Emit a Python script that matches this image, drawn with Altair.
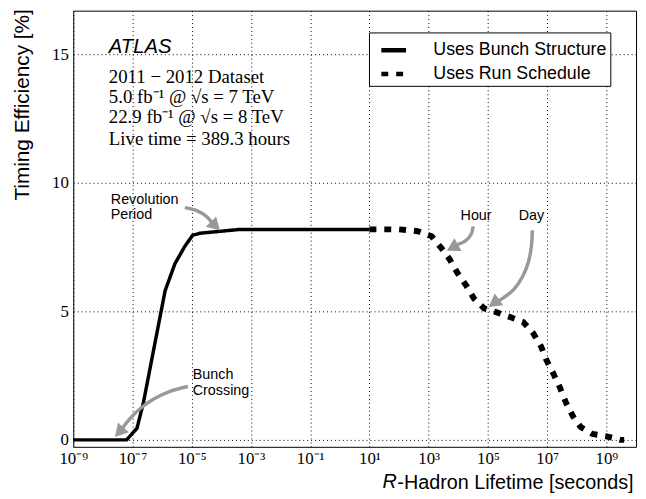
import altair as alt
import pandas as pd

# ---- data (x stored as log10 of lifetime in seconds, y in %) ----
series_names = ["Uses Bunch Structure", "Uses Run Schedule"]

bunch_logx = [-9.0, -7.2, -6.85, -6.63, -6.22, -5.9, -5.57, -5.23, -4.97, -4.73, -4.0, -3.37, 1.0]
bunch_eff = [0.0, 0.0, 0.45, 1.46, 3.9, 5.8, 6.85, 7.54, 7.96, 8.04, 8.12, 8.19, 8.19]

run_logx = [1.0, 2.0, 2.63, 3.1, 3.43, 3.7, 3.97, 4.27, 4.53, 4.87, 5.3, 5.77, 6.2, 6.53,
            6.8, 6.97, 7.2, 7.43, 7.63, 7.87, 8.13, 8.53, 8.97, 9.47, 9.6]
run_eff = [8.19, 8.19, 8.12, 7.92, 7.46, 7.04, 6.5, 6.0, 5.5, 5.12, 4.96, 4.77, 4.58, 4.15,
           3.62, 3.12, 2.6, 2.04, 1.46, 0.92, 0.5, 0.23, 0.15, 0.0, 0.0]

x_tick_exps = [-9, -7, -5, -3, -1, 1, 3, 5, 7, 9]
y_ticks = [0, 5, 10, 15]

# annotations (log10 x, y)
arrow_ids = ["rev"] * 4 + ["hour"] * 4 + ["day"] * 7 + ["bunch"] * 6
arrow_logx = [-5.233, -4.833, -4.5, -4.3,
              4.5, 4.433, 4.233, 3.967,
              6.5, 6.467, 6.367, 6.167, 5.867, 5.533, 5.35,
              -5.133, -5.733, -6.3, -6.767, -7.1, -7.33]
arrow_eff = [9.038, 8.923, 8.692, 8.42,
             8.308, 8.0, 7.731, 7.6,
             8.154, 7.538, 6.923, 6.346, 5.846, 5.538, 5.41,
             2.077, 1.885, 1.577, 1.192, 0.808, 0.47]

head_logx = [-4.2, 3.8, 5.2, -7.45]
head_eff = [8.32, 7.48, 5.32, 0.3]
head_angle = [135, 241, 234, 222]

left_note_text = ["Revolution", "Period", "Bunch", "Crossing"]
left_note_logx = [-7.733, -7.733, -4.967, -4.967]
left_note_eff = [9.346, 8.731, 2.538, 1.885]

center_note_text = ["Hour", "Day"]
center_note_logx = [4.6, 6.467]
center_note_eff = [8.692, 8.692]

info_text = ["2011 \u2212 2012 Dataset",
             "5.0  fb\u207b\u00b9 @ \u221as = 7 TeV",
             "22.9 fb\u207b\u00b9 @ \u221as = 8 TeV",
             "Live time = 389.3 hours"]
info_logx = [-7.8, -7.8, -7.8, -7.8]
info_eff = [13.885, 13.115, 12.346, 11.462]

atlas_logx = [-7.8]
atlas_eff = [15.04]

# italic "R" that starts the x-axis title (placed just left of the axis title text)
r_logx = [1.92]
r_eff = [-1.88]

# ---- frames ----
bunch_df = pd.DataFrame({"t": [10.0 ** v for v in bunch_logx], "eff": bunch_eff,
                         "series": series_names[0]})
run_df = pd.DataFrame({"t": [10.0 ** v for v in run_logx], "eff": run_eff,
                       "series": series_names[1]})

arrows = pd.DataFrame({"t": [10.0 ** v for v in arrow_logx], "eff": arrow_eff,
                       "arrow": arrow_ids, "seq": list(range(len(arrow_ids)))})
heads = pd.DataFrame({"t": [10.0 ** v for v in head_logx], "eff": head_eff, "ang": head_angle})
left_notes = pd.DataFrame({"t": [10.0 ** v for v in left_note_logx], "eff": left_note_eff,
                           "text": left_note_text})
center_notes = pd.DataFrame({"t": [10.0 ** v for v in center_note_logx], "eff": center_note_eff,
                             "text": center_note_text})
info = pd.DataFrame({"t": [10.0 ** v for v in info_logx], "eff": info_eff, "text": info_text})
atlas = pd.DataFrame({"t": [10.0 ** v for v in atlas_logx], "eff": atlas_eff, "text": ["ATLAS"]})
rtxt = pd.DataFrame({"t": [10.0 ** v for v in r_logx], "eff": r_eff, "text": ["R"]})

label_expr = ("'10' + replace(replace(replace(replace(replace(replace("
              "'' + round(log(datum.value)/LN10),'-','\u207b'),'1','\u00b9'),'3','\u00b3'),"
              "'5','\u2075'),'7','\u2077'),'9','\u2079')")

xscale = alt.Scale(type="log", domain=[1e-9, 1e10], nice=False)
yscale = alt.Scale(domain=[-0.27, 16.7], nice=False, zero=False)

xaxis = alt.Axis(values=[10.0 ** k for k in x_tick_exps], labelExpr=label_expr,
                 title="-Hadron Lifetime [seconds]", grid=True, ticks=False, domain=False,
                 labelFlush=False, labelOverlap=False, labelFont="Liberation Serif",
                 labelFontSize=17, labelPadding=4, labelColor="black",
                 titleFont="Liberation Sans", titleFontSize=20, titleFontWeight="normal",
                 titleColor="black", titleAlign="right", titleX=566, titleY=42,
                 titleBaseline="alphabetic", gridColor="black", gridDash=[1, 3],
                 gridOpacity=1, gridWidth=1)
yaxis = alt.Axis(values=y_ticks, title="Timing Efficiency [%]", grid=True, ticks=False,
                 domain=False, labelFont="Liberation Serif", labelFontSize=17,
                 labelPadding=5, labelColor="black", labelFlush=False,
                 titleFont="Liberation Sans", titleFontSize=21, titleFontWeight="normal",
                 titleColor="black", titleAngle=270, titleAlign="right", titleX=-41,
                 titleY=-2, titleBaseline="bottom", gridColor="black", gridDash=[1, 3],
                 gridOpacity=1, gridWidth=1)

X = alt.X("t:Q", scale=xscale, axis=xaxis)
Y = alt.Y("eff:Q", scale=yscale, axis=yaxis)

legend = alt.Legend(title=None, orient="none", legendX=299, legendY=22,
                    strokeColor="black", fillColor="white", padding=3,
                    labelFont="Liberation Sans", labelFontSize=18, labelColor="black",
                    labelLimit=400, symbolType="stroke", symbolSize=625,
                    symbolStrokeWidth=4.5, symbolOffset=7, rowPadding=0, labelOffset=25,
                    cornerRadius=0)

color_enc = alt.Color("series:N", scale=alt.Scale(domain=series_names, range=["black", "black"]),
                      legend=legend)
dash_enc = alt.StrokeDash("series:N", scale=alt.Scale(domain=series_names,
                                                      range=[[1, 0], [7, 8]]),
                          legend=legend)

solid_line = alt.Chart(bunch_df).mark_line(strokeCap="butt", strokeWidth=3.5).encode(
    x=X, y=Y, color=color_enc, strokeDash=dash_enc)

dashed_line = alt.Chart(run_df).mark_line(strokeCap="butt", strokeWidth=6).encode(
    x=X, y=Y, color=color_enc, strokeDash=dash_enc)

shafts = alt.Chart(arrows).mark_line(color="#999999", strokeWidth=3.5, interpolate="cardinal",
                                     strokeCap="butt").encode(
    x=X, y=Y, detail="arrow:N", order="seq:Q")

arrowheads = alt.Chart(heads).mark_point(shape="triangle-up", filled=True, color="#999999",
                                         opacity=1, size=220).encode(
    x=X, y=Y, angle=alt.Angle("ang:Q", scale=None))

left_layer = alt.Chart(left_notes).mark_text(font="Liberation Sans", fontSize=14.5,
                                             color="black", align="left",
                                             baseline="middle").encode(
    x=X, y=Y, text="text:N")

center_layer = alt.Chart(center_notes).mark_text(font="Liberation Sans", fontSize=14.5,
                                                 color="black", align="center",
                                                 baseline="middle").encode(
    x=X, y=Y, text="text:N")

info_layer = alt.Chart(info).mark_text(font="Liberation Serif", fontSize=19, color="black",
                                       align="left", baseline="alphabetic").encode(
    x=X, y=Y, text="text:N")

atlas_layer = alt.Chart(atlas).mark_text(font="Liberation Sans", fontSize=20.5, fontStyle="italic",
                                         fontWeight="normal", color="black", align="left",
                                         baseline="alphabetic").encode(
    x=X, y=Y, text="text:N")

r_layer = alt.Chart(rtxt).mark_text(font="Liberation Sans", fontSize=20, fontStyle="italic",
                                    color="black", align="right",
                                    baseline="alphabetic").encode(
    x=X, y=Y, text="text:N")

chart = alt.layer(solid_line, dashed_line, shafts, arrowheads, left_layer, center_layer,
                  info_layer, atlas_layer, r_layer).properties(
    width=569, height=441,
    autosize=alt.AutoSizeParams(type="none"),
    padding={"left": 66, "top": 0, "right": 2, "bottom": 46},
    background="white",
).configure_view(stroke="black", strokeWidth=1)

chart.save("out.html", embed_options={"renderer": "svg", "actions": False})
